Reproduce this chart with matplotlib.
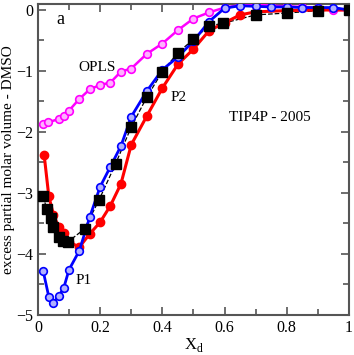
import matplotlib.pyplot as plt
from matplotlib.ticker import MultipleLocator

plt.rcParams['font.family'] = ['Liberation Serif', 'DejaVu Serif']

# TIP4P/2005 - P2 (red, filled circles)
x_red = [0.02, 0.035, 0.05, 0.067, 0.083, 0.1, 0.133, 0.167, 0.2, 0.233, 0.267,
         0.3, 0.35, 0.4, 0.45, 0.5, 0.55, 0.6, 0.65, 0.7, 0.8, 0.9, 1.0]
y_red = [-2.37, -3.05, -3.36, -3.56, -3.65, -3.80, -3.89, -3.67, -3.48, -3.21, -2.85,
         -2.21, -1.74, -1.28, -0.89, -0.64, -0.34, -0.21, -0.08, -0.03, -0.01, 0.0, 0.0]

# P1 (blue, open circles)
x_blue = [0.017, 0.035, 0.05, 0.067, 0.083, 0.1, 0.133, 0.167, 0.2, 0.233, 0.267,
          0.3, 0.35, 0.4, 0.45, 0.5, 0.55, 0.6, 0.65, 0.7, 0.75, 0.8, 0.85, 0.9, 0.95, 1.0]
y_blue = [-4.28, -4.70, -4.80, -4.69, -4.56, -4.26, -3.95, -3.39, -2.90, -2.57, -2.23,
          -1.75, -1.33, -0.98, -0.77, -0.51, -0.19, 0.03, 0.07, 0.06, 0.05, 0.05, 0.04, 0.04, 0.04, 0.0]

# OPLS (magenta, open circles)
x_opls = [0.017, 0.033, 0.067, 0.083, 0.1, 0.133, 0.167, 0.2, 0.233, 0.267, 0.3,
          0.35, 0.4, 0.45, 0.5, 0.55, 0.6, 0.65, 0.7, 0.75, 0.8, 0.85, 0.9, 0.95, 1.0]
y_opls = [-1.87, -1.84, -1.79, -1.74, -1.65, -1.46, -1.30, -1.23, -1.19, -1.01, -0.96,
          -0.72, -0.55, -0.33, -0.14, -0.04, 0.04, 0.08, 0.09, 0.07, 0.06, 0.05, 0.04, 0.0, 0.0]

# experiment (black squares, dashed)
x_exp = [0.017, 0.028, 0.042, 0.05, 0.068, 0.08, 0.097, 0.15, 0.197, 0.25,
         0.3, 0.35, 0.4, 0.45, 0.5, 0.55, 0.594, 0.7, 0.8, 0.9, 1.0]
y_exp = [-3.05, -3.26, -3.41, -3.56, -3.72, -3.79, -3.80, -3.59, -3.11, -2.52,
         -1.92, -1.43, -1.01, -0.70, -0.48, -0.26, -0.22, -0.08, -0.05, -0.01, 0.0]

fig = plt.figure(figsize=(3.54, 3.55), dpi=100)
ax = fig.add_axes([0.107, 0.113, 0.879, 0.876])

ax.plot(x_exp, y_exp, '--', color='black', lw=0.9, zorder=2)
ax.plot(x_exp, y_exp, 's', color='black', ms=6.5, zorder=5)
ax.plot(x_opls, y_opls, '-o', color='#ff00ff', lw=1.8, ms=5.5, mfc='#ffb0ff', mew=1.2, zorder=3)
ax.plot(x_red, y_red, '-o', color='#ff0000', lw=2.2, ms=6, zorder=3)
ax.plot(x_blue, y_blue, '-o', color='#0000ff', lw=2.0, ms=5.5, mfc='#b0b0ff', mew=1.2, zorder=4)

ax.set_xlim(0, 1)
ax.set_ylim(-5, 0.1)
ax.set_xticks([0, 0.2, 0.4, 0.6, 0.8, 1])
ax.set_xticklabels(['0', '0.2', '0.4', '0.6', '0.8', '1'])
ax.xaxis.set_minor_locator(MultipleLocator(0.1))
ax.yaxis.set_major_locator(MultipleLocator(1))
ax.yaxis.set_minor_locator(MultipleLocator(0.5))
ax.tick_params(which='both', direction='in', top=True, right=True, labelsize=11.5, color='#555555')
ax.tick_params(which='major', length=6, width=1.2)
ax.tick_params(which='minor', length=4, width=1.2)
for s in ax.spines.values():
    s.set_color('#555555')
    s.set_linewidth(1.5)

ax.set_xlabel('X$_\\mathregular{d}$', fontsize=12, labelpad=0)
ax.set_ylabel('excess partial molar volume - DMSO', fontsize=11, labelpad=1)

ax.text(0.058, -0.15, 'a', fontsize=13, va='center')
ax.text(0.129, -0.95, 'OPLS', fontsize=11, va='center')
ax.text(0.426, -1.43, 'P2', fontsize=11, va='center')
ax.text(0.745, -1.77, 'TIP4P - 2005', fontsize=11, va='center', ha='center')
ax.text(0.12, -4.43, 'P1', fontsize=11, va='center')

fig.savefig('out.png', dpi=100)
